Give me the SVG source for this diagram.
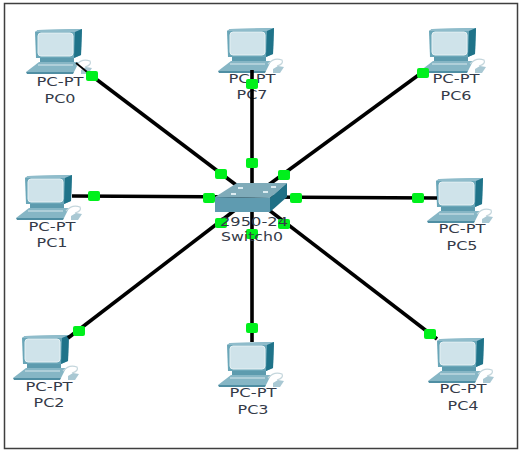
<svg xmlns="http://www.w3.org/2000/svg" width="526" height="454" viewBox="0 0 526 454">
<style>
.ln{stroke:#000;stroke-width:3.6;fill:none}
.lk{fill:#00f01c}
text{font-family:"DejaVu Sans",Verdana,sans-serif;font-size:13px;fill:#343a48;text-anchor:middle}
</style>
<defs>
<g id="pc">
<path d="M0 3 L3 1 L47 0 L46 26 L39 29 L1 29 Z" fill="#6aa6b8"/>
<path d="M0 3 L3 1 L47 0 L40 3 Z" fill="#8fbccb"/>
<path d="M40 3 L47 0 L46 26 L39 29 Z" fill="#1f7389"/>
<rect x="3" y="4" width="35" height="23" rx="3" fill="#cfe3ea" stroke="#e6f1f4" stroke-width="1"/>
<path d="M5 29 H39 L39 33 H5 Z" fill="#5d9bae"/>
<path d="M-9 43 L4 33 H44 L39 43 Z" fill="#86b6c5"/>
<path d="M-9 43 H39 L38 45 H-8 Z" fill="#4f8ea3"/>
<path d="M3 36 H38" stroke="#d8e8ed" stroke-width="1.2"/>
<path d="M41 36 Q47 29 55 32 Q57 36 50 38" fill="none" stroke="#c4d6dc" stroke-width="1.2"/>
<path d="M46 41 L51 38 L57 39 L53 45 L46 45 Z" fill="#a9c8d3"/>
</g>
</defs>
<rect width="526" height="454" fill="#fff"/>
<rect x="4.500" y="3.500" width="513" height="445" fill="none" stroke="#3f3f3f" stroke-width="1.500"/>
<g id="pc0"><use href="#pc" x="35" y="29"/><text x="60" y="86" textLength="47" lengthAdjust="spacingAndGlyphs">PC-PT</text><text x="60" y="103" textLength="31" lengthAdjust="spacingAndGlyphs">PC0</text></g>
<g id="pc1"><use href="#pc" x="25" y="175"/><text x="52" y="231" textLength="47" lengthAdjust="spacingAndGlyphs">PC-PT</text><text x="52" y="247" textLength="31" lengthAdjust="spacingAndGlyphs">PC1</text></g>
<g id="pc2"><use href="#pc" x="22" y="335"/><text x="49" y="391" textLength="47" lengthAdjust="spacingAndGlyphs">PC-PT</text><text x="49" y="407" textLength="31" lengthAdjust="spacingAndGlyphs">PC2</text></g>
<g id="pc3"><use href="#pc" x="227" y="342"/><text x="253" y="397" textLength="47" lengthAdjust="spacingAndGlyphs">PC-PT</text><text x="253" y="414" textLength="31" lengthAdjust="spacingAndGlyphs">PC3</text></g>
<g id="pc4"><use href="#pc" x="437" y="338"/><text x="463" y="393" textLength="47" lengthAdjust="spacingAndGlyphs">PC-PT</text><text x="463" y="410" textLength="31" lengthAdjust="spacingAndGlyphs">PC4</text></g>
<g id="pc5"><use href="#pc" x="436" y="178"/><text x="462" y="233" textLength="47" lengthAdjust="spacingAndGlyphs">PC-PT</text><text x="462" y="250" textLength="31" lengthAdjust="spacingAndGlyphs">PC5</text></g>
<g id="pc6"><use href="#pc" x="429" y="28"/><text x="456" y="83" textLength="47" lengthAdjust="spacingAndGlyphs">PC-PT</text><text x="456" y="100" textLength="31" lengthAdjust="spacingAndGlyphs">PC6</text></g>
<g id="pc7"><use href="#pc" x="227" y="28"/><text x="252" y="83" textLength="47" lengthAdjust="spacingAndGlyphs">PC-PT</text><text x="252" y="99" textLength="31" lengthAdjust="spacingAndGlyphs">PC7</text></g>
<g id="connectors">
<path class="ln" d="M252 197 L92 76"/>
<path d="M92 76 L76 63" stroke="#000" stroke-width="1.800" fill="none"/>
<path class="ln" d="M252 197 L252 70"/>
<path class="ln" d="M252 197 L424 71"/>
<path class="ln" d="M252 197 L72 196"/>
<path class="ln" d="M252 197 L437 198"/>
<path class="ln" d="M252 197 L68 338"/>
<path class="ln" d="M252 197 L252 342"/>
<path class="ln" d="M252 197 L437 339"/>
</g>
<g id="links">
<rect class="lk" x="86" y="71" width="12" height="10" rx="2"/>
<rect class="lk" x="215" y="169" width="12" height="10" rx="2"/>
<rect class="lk" x="246" y="79" width="12" height="10" rx="2"/>
<rect class="lk" x="246" y="158" width="12" height="10" rx="2"/>
<rect class="lk" x="417" y="68" width="12" height="10" rx="2"/>
<rect class="lk" x="278" y="170" width="12" height="10" rx="2"/>
<rect class="lk" x="88" y="191" width="12" height="10" rx="2"/>
<rect class="lk" x="203" y="193" width="12" height="10" rx="2"/>
<rect class="lk" x="290" y="193" width="12" height="10" rx="2"/>
<rect class="lk" x="412" y="193" width="12" height="10" rx="2"/>
<rect class="lk" x="73" y="326" width="12" height="10" rx="2"/>
<rect class="lk" x="215" y="218" width="12" height="10" rx="2"/>
<rect class="lk" x="246" y="323" width="12" height="10" rx="2"/>
<rect class="lk" x="246" y="229" width="12" height="10" rx="2"/>
<rect class="lk" x="424" y="329" width="12" height="10" rx="2"/>
<rect class="lk" x="278" y="219" width="12" height="10" rx="2"/>
</g>
<g id="switch0">
<path d="M215 197 L237 183 H287 L270 198 Z" fill="#7fabb9"/>
<path d="M215 197 L270 198 V212 H215 Z" fill="#5f9bb0"/>
<path d="M270 198 L287 183 V197 L270 212 Z" fill="#1f7086"/>
<g fill="#dcecf1"><rect x="238" y="187" width="5" height="2"/><rect x="271" y="186" width="5" height="2"/><rect x="231" y="193" width="5" height="2"/><rect x="263" y="191" width="5" height="2"/></g>
<text x="254" y="226" textLength="68" lengthAdjust="spacingAndGlyphs">2950-24</text><text x="252" y="241" textLength="62" lengthAdjust="spacingAndGlyphs">Switch0</text>
</g>
</svg>
